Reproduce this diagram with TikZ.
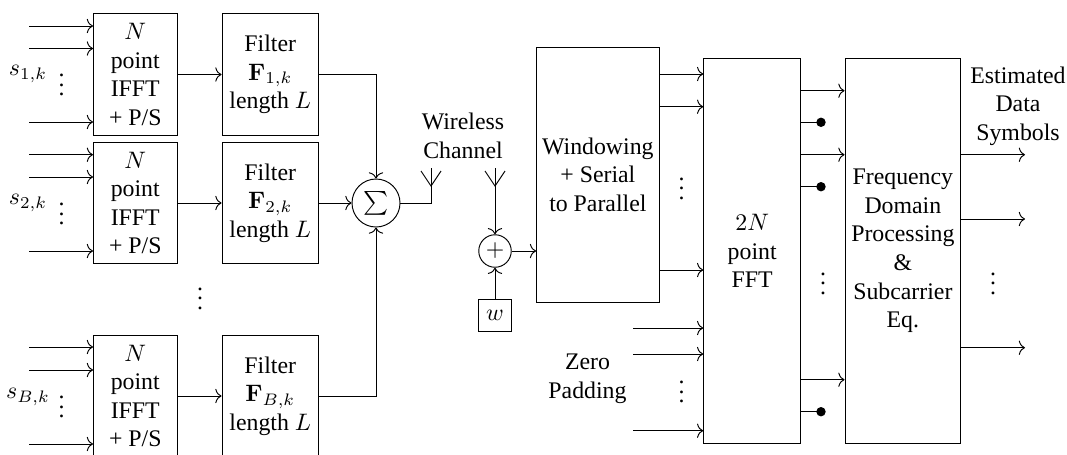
\documentclass[tikz,border=0pt]{standalone}
\usepackage[no-math]{fontspec}
\setmainfont{Liberation Serif}
\usepackage{amsmath,amssymb}
\usetikzlibrary{calc,arrows.meta}
\tikzset{
  block/.style={
    draw,
    align=center,
    inner sep=0pt
  },
  ifftblock/.style={
    block,
    minimum width=83.5*0.42pt,
    minimum height=121.5*0.42pt
  },
  filterblock/.style={
    block,
    minimum width=96.5*0.42pt,
    minimum height=121.5*0.42pt
  },
  tallblock/.style={
    block,
    minimum height=385.4*0.42pt
  },
  adder/.style={
    draw,
    shape=circle,
    inner sep=0pt
  },
  sig/.style={
    -{Computer Modern Rightarrow[length=2.6pt,width=6pt]}
  },
  antenna/.pic={
    \draw (0,0)--(0,-18);
    \draw (-10,-15)--(0,0)--(10,-15);
  }
}
\newcommand{\ifftlabel}{$N$\\point\\IFFT\\+ P/S}
\newcommand{\filterlabel}[1]{Filter\\$\mathbf{F}_{#1}$\\length $L$}

\begin{document}
\begin{tikzpicture}[x=0.42pt,y=-0.42pt]
    \useasboundingbox (0,0) rectangle (1067,454);
    % transmit side
    \node[ifftblock] (ifftA) at (135.25,74.5) {\ifftlabel};
    \node[ifftblock] (ifftB) at (135.25,203) {\ifftlabel};
    \node[ifftblock] (ifftC) at (135.25,396) {\ifftlabel};
    \node[filterblock] (filterA) at (270.25,74.5) {\filterlabel{1,k}};
    \node[filterblock] (filterB) at (270.25,203) {\filterlabel{2,k}};
    \node[filterblock] (filterC) at (270.25,396) {\filterlabel{B,k}};
    \node (labelA) at (28,74) {$s_{1,k}$};
    \node (labelB) at (28,203) {$s_{2,k}$};
    \node (labelC) at (28,397) {$s_{B,k}$};
    \node (dotsA) at (61.5,78) {$\vdots$};
    \node (dotsB) at (61.5,207) {$\vdots$};
    \node (dotsC) at (61.5,400) {$\vdots$};
    \node (dotsD) at (200,291.5) {$\vdots$};
    \foreach \blk/\ya/\yb/\yc in {ifftA/26/48.5/122,ifftB/154.7/177/251,ifftC/347/370/444}{
        \coordinate (\blk a) at (29,\ya);
        \coordinate (\blk b) at (29,\yb);
        \coordinate (\blk c) at (29,\yc);
        \draw[sig] (\blk a)--(\blk a-|\blk.west);
        \draw[sig] (\blk b)--(\blk b-|\blk.west);
        \draw[sig] (\blk c)--(\blk c-|\blk.west);
    }
    \draw[sig] (ifftA)--(filterA);
    \draw[sig] (ifftB)--(filterB);
    \draw[sig] (ifftC)--(filterC);
    \node[adder,minimum size=48*0.42pt] (sum) at (376,203) {$\sum$};
    \draw[sig] (filterB)--(sum);
    \draw[sig] (filterA.east)-|(sum.north);
    \draw[sig] (filterC.east)-|(sum.south);
    % channel
    \pic (txant) at (431,186) {antenna};
    \coordinate (txfeed) at (431,186);
    \draw (sum.east)-|(txfeed);
    \node[align=center] (channel) at (463,136) {Wireless\\Channel};
    \pic (rxant) at (495,186) {antenna};
    \coordinate (rxfeed) at (495,186);
    \node[adder,minimum size=32.5*0.42pt] (plus) at (495,251) {$+$};
    \node[draw,minimum size=32.5*0.42pt,inner sep=0pt] (noise) at (495,315.5) {$w$};
    \draw[sig] (rxfeed)--(plus);
    \draw[sig] (noise)--(plus);
    % receive side
    \node[block,minimum width=122.5*0.42pt,minimum height=255*0.42pt] (window) at (597.85,174.8) {Windowing\\+ Serial\\to Parallel};
    \node[tallblock,minimum width=97*0.42pt] (fft) at (752.2,251) {$2N$\\point\\FFT};
    \node[tallblock,minimum width=115.7*0.42pt] (fdp) at (902.85,251) {Frequency\\Domain\\Processing\\\&\\Subcarrier\\Eq.};
    \draw[sig] (plus)--(window.west|-plus);
    \foreach \y in {74,106.7,270}{
        \draw[sig] (window.east|-0,\y)--(fft.west|-0,\y);
    }
    \node (dotsE) at (681.7,181.5) {$\vdots$};
    \coordinate (zeroa) at (633,328);
    \coordinate (zerob) at (633,354);
    \coordinate (zeroc) at (633,430.7);
    \foreach \n in {a,b,c}{
        \draw[sig] (zero\n)--(zero\n-|fft.west);
    }
    \node[align=center] (zero) at (587.5,379) {Zero\\Padding};
    \node (dotsF) at (681.7,385) {$\vdots$};
    \foreach \y in {90.7,154.7,379.7}{
        \draw[sig] (fft.east|-0,\y)--(fdp.west|-0,\y);
    }
    \foreach \y in {122.3,186.7,411.7}{
        \coordinate (nc) at (821,\y);
        \draw (fft.east|-nc)--(nc);
        \fill (nc) circle (4.7);
    }
    \node (dotsG) at (823,276.5) {$\vdots$};
    \foreach \y in {154.7,219,347.7}{
        \coordinate (est) at (1025,\y);
        \draw[sig] (fdp.east|-est)--(est);
    }
    \node (dotsH) at (993,276.5) {$\vdots$};
    \node[align=center] (estimated) at (1018,106) {Estimated\\Data\\Symbols};
\end{tikzpicture}
\end{document}
